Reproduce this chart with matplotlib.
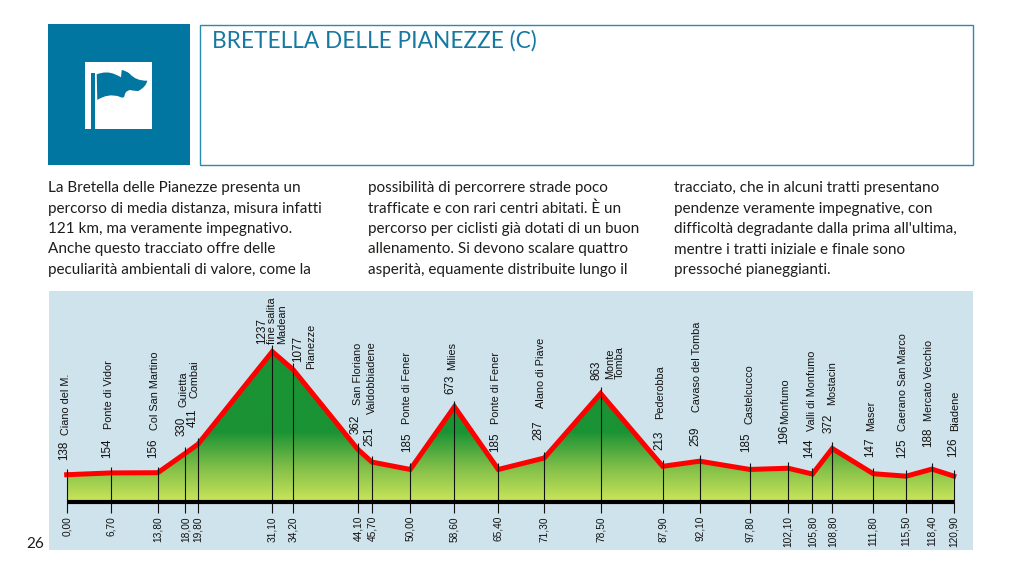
import numpy as np
import matplotlib
matplotlib.use("Agg")
import matplotlib.pyplot as plt
from matplotlib.colors import LinearSegmentedColormap
from matplotlib.patches import Rectangle, Polygon, PathPatch
from matplotlib.path import Path

W, H = 1020, 574

km_labels = ["0,00", "6,70", "13,80", "18,00", "19,80", "31,10", "34,20", "44,10", "45,70",
             "50,00", "58,60", "65,40", "71,30", "78,50", "87,90", "92,10", "97,80", "102,10",
             "105,80", "108,80", "111,80", "115,50", "118,40", "120,90"]
# the printed profile is not to scale, so these are the distances as drawn
km_drawn = [0, 6.7, 13.8, 18.0, 19.9, 31.15, 34.3, 44.15, 46.25,
            52.05, 58.75, 65.4, 72.35, 80.9, 90.3, 95.9, 103.5, 109.3,
            113.0, 116.0, 122.2, 127.2, 131.1, 134.4]
alt_labels = ["138", "154", "156", "330", "411", "1237", "1077", "362", "251",
              "185", "673", "185", "287", "863", "213", "259", "185", "196",
              "144", "372", "147", "125", "188", "126"]
# same as the labels except Milies, which is drawn higher than it says
alt_drawn = [138, 154, 156, 330, 411, 1237, 1077, 362, 251,
             185, 745, 185, 287, 863, 213, 259, 185, 196,
             144, 372, 147, 125, 188, 126]
places = ["Ciano del M.", "Ponte di Vidor", "Col San Martino", "Guietta", "Combai",
          "fine salita\nMadean", "Pianezze", "San Floriano", "Valdobbiadene",
          "Ponte di Fener", "Milies", "Ponte di Fener", "Alano di Piave", "Monte\nTomba",
          "Pederobba", "Cavaso del Tomba", "Castelcucco", "Monfumo", "Valli di Monfumo",
          "Mostacin", "Maser", "Caerano San Marco", "Mercato Vecchio", "Biadene"]

title = "BRETELLA DELLE PIANEZZE (C)"
page_number = "26"
col1 = ["La Bretella delle Pianezze presenta un", "percorso di media distanza, misura infatti",
        "121 km, ma veramente impegnativo.", "Anche questo tracciato offre delle",
        "peculiarità ambientali di valore, come la"]
col2 = ["possibilità di percorrere strade poco", "trafficate e con rari centri abitati. È un",
        "percorso per ciclisti già dotati di un buon", "allenamento. Si devono scalare quattro",
        "asperità, equamente distribuite lungo il"]
col3 = ["tracciato, che in alcuni tratti presentano", "pendenze veramente impegnative, con",
        "difficoltà degradante dalla prima all'ultima,", "mentre i tratti iniziale e finale sono",
        "pressoché pianeggianti."]

# where the rotated labels sit on the page, in pixels
alt_text_x = [64, 107, 153.3, 181.3, 192.3, 262, 297.7, 355.3, 369, 406.7, 450, 495, 538.3,
              597, 659, 695.7, 746, 784, 809, 829, 870, 901.7, 928.3, 952.7]
alt_text_y = [460, 458.3, 457.7, 435.7, 427.3, 344.3, 362.3, 434, 446, 451.7, 394.3, 451.7, 440,
              380, 450, 445.7, 451.7, 444, 457.7, 433.3, 456.7, 458.3, 447.3, 456.7]
place_x = [66, 109, 155, 183.3, 195, 277, 310.7, 358.3, 371.7, 407.3, 452.3, 495.7, 541,
           615, 660, 697.3, 750, 785, 811.7, 831.7, 871, 903.3, 929, 955]
place_y = [435, 429, 430, 407.3, 398.3, 343.5, 369, 405, 414.3, 424, 370, 424, 408.3,
           379.3, 419, 411.7, 424, 424, 430.7, 405, 430.7, 430.7, 421, 430.7]

BLUE = "#0076A1"
TEXT = "#1d1d1b"
BODY_FONT = "Lato"
LABEL_FONT = "Liberation Sans"

fig = plt.figure(figsize=(W / 100, H / 100), dpi=100, facecolor="white")

# chart panel
ax = fig.add_axes([49 / W, 1 - 550 / H, 924 / W, 259 / H], zorder=1)
ax.set_facecolor("#CFE3EC")
ax.set_xticks([])
ax.set_yticks([])
for s in ax.spines.values():
    s.set_visible(False)

BASE = -103
x = np.array(km_drawn)
y = np.array(alt_drawn)

# green gradient clipped to the area under the profile, solid green above ~520 m
cmap = LinearSegmentedColormap.from_list(
    "profile", [(0, "#CBE55A"), (0.23, "#7FBE48"), (0.465, "#1A9334"), (1, "#1A9334")])
grad = np.linspace(0, 1, 300).reshape(-1, 1)
im = ax.imshow(grad, origin="lower", cmap=cmap, aspect="auto",
               extent=(x[0], x[-1], BASE, 1237), zorder=2)
area = Polygon(np.vstack([[x[0], BASE], np.column_stack([x, y]), [x[-1], BASE]]),
               transform=ax.transData, fc="none", ec="none")
ax.add_patch(area)
im.set_clip_path(area)
ax.set_xlim(-2.68, 137.32)
ax.set_ylim(-534, 1778)

ax.plot(x, y, color="#FF0000", lw=3.6, solid_joinstyle="miter", zorder=3)
ax.vlines(x, -206, y + 55, color="#111111", lw=0.8, zorder=4)
ax.plot([x[0], x[-1]], [BASE, BASE], color="black", lw=3.0, solid_capstyle="butt", zorder=5)

# everything else is laid out in page pixels
page = fig.add_axes([0, 0, 1, 1], zorder=2)
page.set_xlim(0, W)
page.set_ylim(H, 0)
page.axis("off")

page.add_patch(Rectangle((48.4, 24.4), 141.3, 140.8, fc=BLUE, ec="none"))
page.add_patch(Rectangle((200, 24.8), 772.6, 140.4, fc="white", ec="#2A8BB2", lw=1.0))
page.add_patch(Rectangle((85, 61.5), 67.5, 67, fc="white", ec="none"))
page.add_patch(Rectangle((91, 72.5), 4.3, 56, fc=BLUE, ec="none"))
C = Path.CURVE3
flag = Path([(96.7, 74.3), (106.7, 70.5), (115, 74.3), (119, 76), (121, 77.3), (121.7, 70),
             (126, 70.5), (130, 74), (136, 81), (147.3, 80.7), (146, 87), (138.3, 91),
             (134, 91), (130, 90), (125, 91), (124.5, 96), (123.5, 99), (119, 96.5),
             (108, 93), (97.3, 100), (96.7, 74.3)],
            [Path.MOVETO, C, C, C, C, Path.LINETO, C, C, C, C, C, C,
             C, C, C, C, C, C, C, C, Path.CLOSEPOLY])
page.add_patch(PathPatch(flag, fc=BLUE, ec="none"))

page.text(212, 41, title, family=BODY_FONT, fontsize=16.3, color="#1579A2", va="center", ha="left")

for col_x, lines in zip([48, 368, 674], [col1, col2, col3]):
    for i, line in enumerate(lines):
        page.text(col_x, 188 + i * 20.5, line, family=BODY_FONT, fontsize=11, color=TEXT,
                  va="center", ha="left")
page.text(26, 544, page_number, family=BODY_FONT, fontsize=11, color=TEXT, va="center", ha="left")

for i in range(len(km_labels)):
    stem_x = ax.transData.transform((km_drawn[i], 0))[0]
    page.text(stem_x, 516, km_labels[i], family=LABEL_FONT, fontsize=7.3, rotation=90,
              ha="center", va="top", color="#111111")
    page.text(alt_text_x[i], alt_text_y[i], alt_labels[i], family=LABEL_FONT, fontsize=8.4, rotation=90,
              ha="center", va="bottom", color="#111111")
    page.text(place_x[i], place_y[i], places[i], family=LABEL_FONT, fontsize=7.8, rotation=90,
              ha="center", va="bottom", multialignment="left", linespacing=0.95, color="#111111")

fig.savefig("out.png", dpi=100)
